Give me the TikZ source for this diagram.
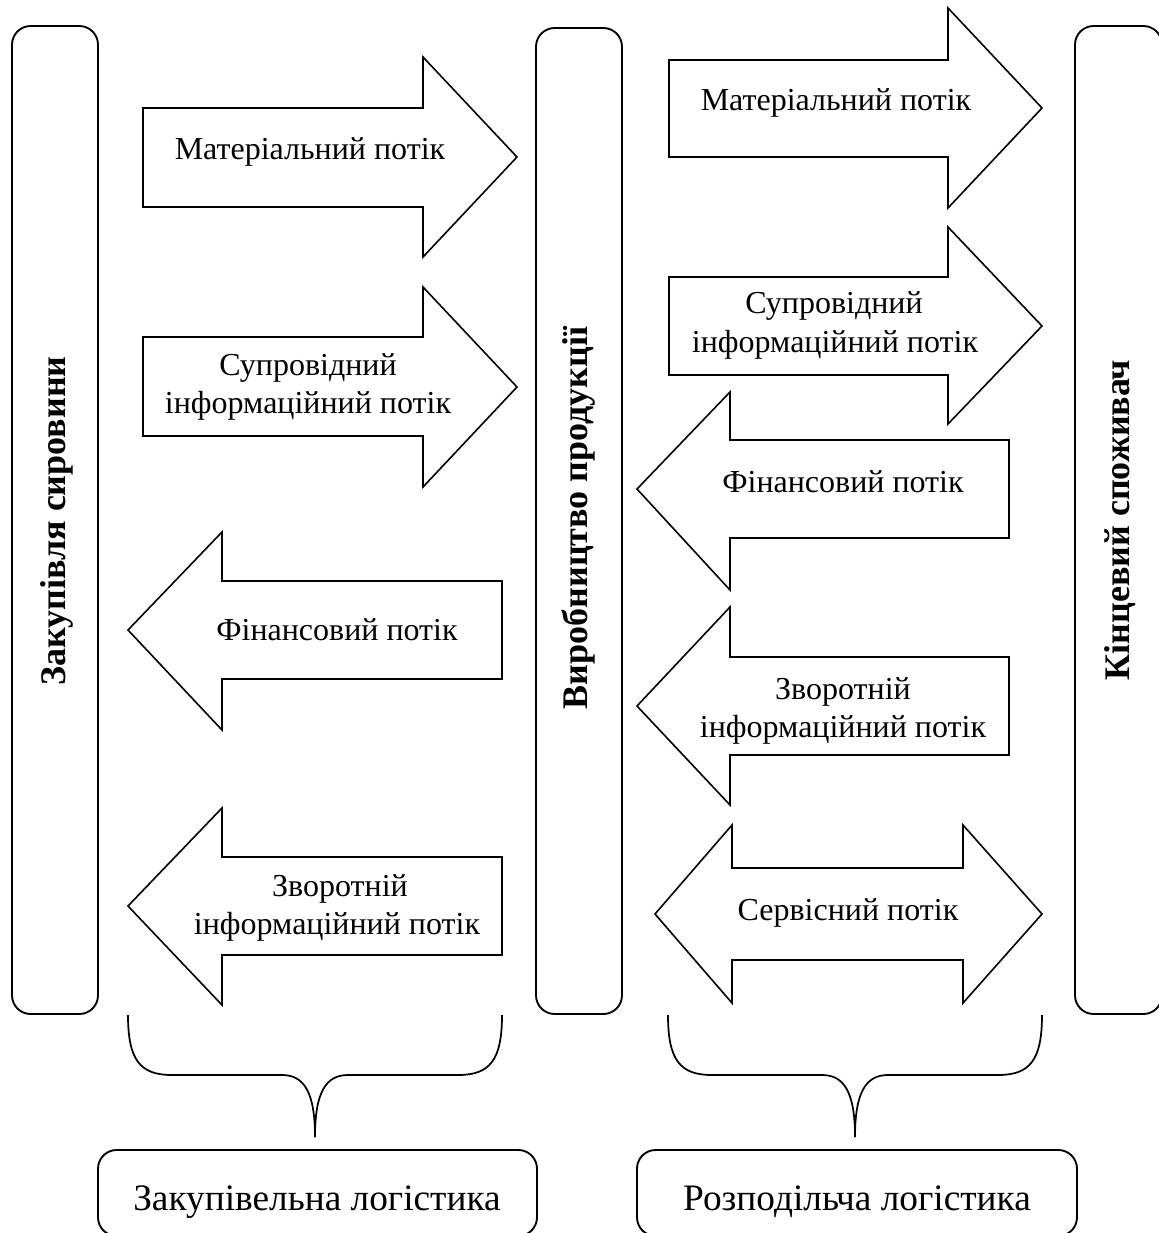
\documentclass[tikz,border=0pt]{standalone}
\usepackage{fontspec}
\setmainfont{Liberation Serif}
\begin{document}
\begin{tikzpicture}[x=0.75pt,y=-0.75pt,
  boxst/.style={draw, line width=1.4pt, rounded corners=14pt},
  flow/.style={draw, line width=1.2pt, line join=miter},
  bracest/.style={draw, line width=1.3pt},
  lbl/.style={inner sep=0pt, anchor=base, font=\fontsize{24}{29}\selectfont},
  blbl/.style={inner sep=0pt, anchor=base, font=\fontsize{28}{34}\selectfont},
  vlbl/.style={inner sep=0pt, anchor=base, rotate=90, font=\bfseries\fontsize{27}{32}\selectfont}]
\useasboundingbox (0,0) rectangle (1159,1233);
\clip (0,0) rectangle (1159,1233);

% vertical boxes
\draw[boxst] (12,26) rectangle (98,1014);
\draw[boxst] (536,28) rectangle (622,1014);
\draw[boxst] (1075,26) rectangle (1162,1014);
\node[vlbl] (v1) at (65,521) {Закупівля сировини};
\node[vlbl] (v2) at (587,518) {Виробництво продукції};
\node[vlbl] (v3) at (1129,520) {Кінцевий споживач};

% left column arrows
\draw[flow] (143,108) -- (423,108) -- (423,57) -- (517,157) -- (423,257) -- (423,207) -- (143,207) -- cycle;
\draw[flow] (143,337) -- (423,337) -- (423,287) -- (517,387) -- (423,487) -- (423,436) -- (143,436) -- cycle;
\draw[flow] (502,581) -- (222,581) -- (222,532) -- (128,630) -- (222,730) -- (222,679) -- (502,679) -- cycle;
\draw[flow] (502,857) -- (222,857) -- (222,808) -- (128,906) -- (222,1005) -- (222,955) -- (502,955) -- cycle;

% right column arrows
\draw[flow] (669,60) -- (948,60) -- (948,8) -- (1042,108) -- (948,208) -- (948,157) -- (669,157) -- cycle;
\draw[flow] (669,277) -- (948,277) -- (948,227) -- (1042,326) -- (948,424) -- (948,375) -- (669,375) -- cycle;
\draw[flow] (1009,440) -- (730,440) -- (730,392) -- (637,489) -- (730,590) -- (730,538) -- (1009,538) -- cycle;
\draw[flow] (1009,657) -- (730,657) -- (730,607) -- (637,706) -- (730,805) -- (730,755) -- (1009,755) -- cycle;
\draw[flow] (732,868) -- (963,868) -- (963,825) -- (1042,914) -- (963,1003) -- (963,960) -- (732,960) -- (732,1003) -- (655,914) -- (732,825) -- cycle;

% arrow labels
\node[lbl] (t1) at (310,159) {Матеріальний потік};
\node[lbl] (t2a) at (308,375) {Супровідний};
\node[lbl] (t2b) at (308,413) {інформаційний потік};
\node[lbl] (t3) at (337,640) {Фінансовий потік};
\node[lbl] (t4a) at (340,896) {Зворотній};
\node[lbl] (t4b) at (337,934) {інформаційний потік};
\node[lbl] (r1) at (836,110) {Матеріальний потік};
\node[lbl] (r2a) at (834,313) {Супровідний};
\node[lbl] (r2b) at (835,352) {інформаційний потік};
\node[lbl] (r3) at (843,492) {Фінансовий потік};
\node[lbl] (r4a) at (843,699) {Зворотній};
\node[lbl] (r4b) at (843,737) {інформаційний потік};
\node[lbl] (r5) at (848,920) {Сервісний потік};

% braces
\coordinate (b1l) at (128,1015);
\coordinate (b1t) at (315,1137);
\coordinate (b1r) at (502,1015);
\draw[bracest] (b1l) .. controls (128,1060) and (140,1075) .. (172,1075) -- (282,1075) .. controls (304,1075) and (315,1092) .. (b1t);
\draw[bracest] (b1t) .. controls (315,1092) and (326,1075) .. (348,1075) -- (458,1075) .. controls (490,1075) and (502,1060) .. (b1r);
\coordinate (b2l) at (668,1015);
\coordinate (b2t) at (855,1137);
\coordinate (b2r) at (1042,1015);
\draw[bracest] (b2l) .. controls (668,1060) and (680,1075) .. (712,1075) -- (822,1075) .. controls (844,1075) and (855,1092) .. (b2t);
\draw[bracest] (b2t) .. controls (855,1092) and (866,1075) .. (888,1075) -- (998,1075) .. controls (1030,1075) and (1042,1060) .. (b2r);

% bottom boxes
\draw[boxst] (98,1150) rectangle (537,1236);
\draw[boxst] (637,1150) rectangle (1077,1236);
\node[blbl] (k1) at (317,1210) {Закупівельна логістика};
\node[blbl] (k2) at (857,1210) {Розподільча логістика};
\end{tikzpicture}
\end{document}
